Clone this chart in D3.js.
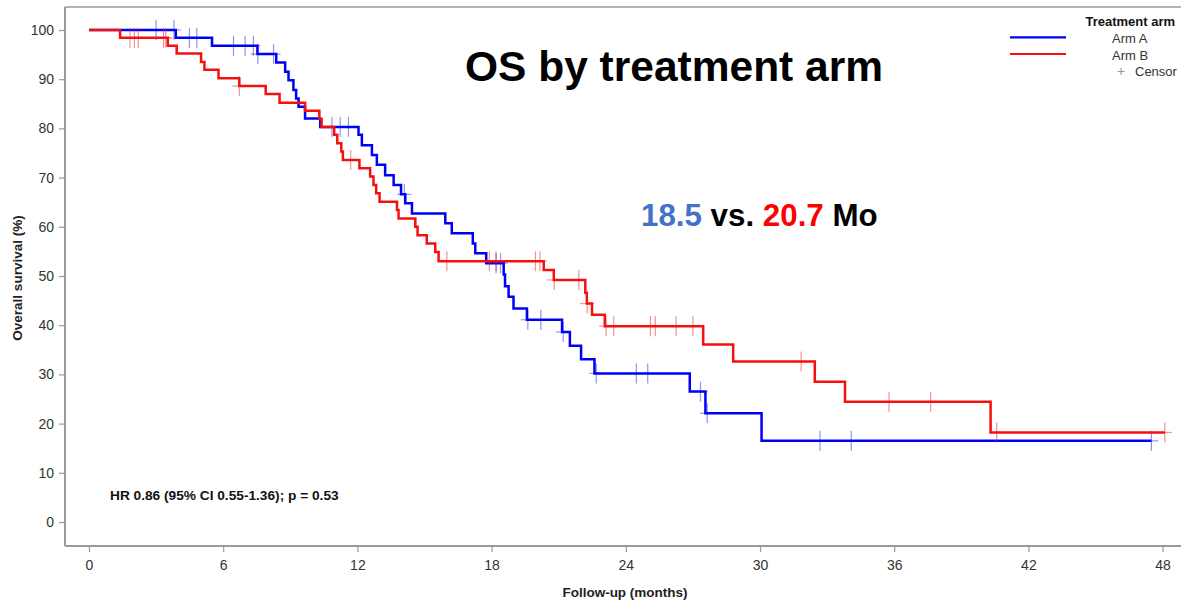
<!DOCTYPE html>
<html>
<head>
<meta charset="utf-8">
<script src="https://cdn.jsdelivr.net/npm/d3@7"></script>
<style>
  html, body { margin: 0; padding: 0; background: #fff; }
  svg text { font-family: "Liberation Sans", Arial, Helvetica, sans-serif; }
</style>
</head>
<body>
<svg id="chart" width="1181" height="601"></svg>
<script>
// Kaplan-Meier step points: event time (months) and survival (%) after the drop
const armATimes = [0, 3.88, 5.5, 7.53, 8.37, 8.77, 8.92, 9.14, 9.26, 9.37, 9.66, 10.34,
  12.05, 12.2, 12.65, 12.87, 13.24, 13.62, 13.95, 14.14, 14.44, 15.93, 16.22, 17.16,
  17.27, 17.76, 18.54, 18.6, 18.76, 18.98, 19.58, 21.15, 21.5, 22.0, 22.6, 26.86, 27.56, 30.07];
const armASurv = [100, 98.4, 96.8, 95.1, 93.4, 91.5, 89.8, 87.8, 86.1, 84.4, 82.0, 80.3,
  78.7, 76.6, 74.6, 72.6, 70.5, 68.5, 66.6, 64.8, 62.7, 60.7, 58.7, 56.6,
  54.6, 52.6, 50.3, 47.9, 45.8, 43.4, 41.1, 38.6, 35.8, 33.1, 30.2, 26.5, 22.1, 16.5];
const armAEnd = 47.5;
const armACensor = [3.0, 3.8, 4.49, 4.82, 6.46, 6.98, 7.35, 7.55, 8.25, 10.86, 11.23, 11.6,
  14.1, 18.2, 18.4, 19.62, 20.2, 21.2, 22.68, 24.47, 24.98, 27.34, 27.64, 32.68, 34.08, 47.5];

const armBTimes = [0, 1.39, 3.52, 3.92, 5.01, 5.16, 5.79, 6.72, 7.9, 8.52, 9.66, 10.3, 10.4,
  10.96, 11.1, 11.28, 11.35, 12.09, 12.57, 12.72, 12.84, 12.99, 13.77, 13.84, 14.59, 14.69,
  15.1, 15.48, 15.63, 20.33, 20.78, 22.19, 22.26, 22.49, 23.06, 27.46, 28.8, 32.45, 33.8, 40.31];
const armBSurv = [100, 98.4, 96.8, 95.2, 93.5, 91.9, 90.2, 88.6, 87.0, 85.2, 83.6, 81.9, 80.3,
  78.7, 77.0, 75.3, 73.6, 71.9, 70.2, 68.5, 66.8, 65.1, 63.4, 61.7, 60.0, 58.3,
  56.6, 54.9, 53.0, 51.2, 49.2, 46.6, 44.4, 42.1, 39.8, 36.1, 32.6, 28.5, 24.45, 18.2];
const armBEnd = 48.1;
const armBCensor = [1.83, 2.03, 2.2, 3.33, 3.43, 6.72, 11.7, 16.0, 17.9, 18.2, 19.96, 20.16,
  20.8, 21.9, 22.27, 23.12, 23.46, 25.1, 25.32, 26.25, 27.0, 31.84, 35.77, 37.63, 40.58, 48.1];

const xTicks = [0, 6, 12, 18, 24, 30, 36, 42, 48];
const yTicks = [0, 10, 20, 30, 40, 50, 60, 70, 80, 90, 100];

const arms = [
  { name: "Arm A", color: "#0000f5", censorColor: "rgba(40,40,230,0.5)",
    times: armATimes, surv: armASurv, end: armAEnd, censor: armACensor },
  { name: "Arm B", color: "#f51010", censorColor: "rgba(235,40,40,0.5)",
    times: armBTimes, surv: armBSurv, end: armBEnd, censor: armBCensor }
];

const svg = d3.select("#chart");

// plotting frame
const frameL = 65, frameT = 7, frameB = 546, frameR = 1181;
const x = d3.scaleLinear().domain([0, 48]).range([89, 1162.6]);
const y = d3.scaleLinear().domain([0, 100]).range([522, 30]);

const axisColor = "#9a9a9a";
const labelColor = "#333";

// top frame line
svg.append("line").attr("x1", frameL).attr("x2", frameR).attr("y1", frameT).attr("y2", frameT)
  .attr("stroke", axisColor).attr("stroke-width", 1.5);

// y axis
const yAxis = svg.append("g").attr("transform", `translate(${frameL},0)`)
  .call(d3.axisLeft(y).tickValues(yTicks).tickSize(6).tickSizeOuter(0).tickPadding(5));
yAxis.select(".domain").remove();
yAxis.append("line").attr("x1", 0).attr("x2", 0).attr("y1", frameT).attr("y2", frameB)
  .attr("stroke", axisColor).attr("stroke-width", 2);
yAxis.selectAll(".tick line").attr("stroke", axisColor).attr("stroke-width", 1.2);
yAxis.selectAll(".tick text").attr("fill", labelColor).attr("font-size", 14)
  .attr("font-family", "'Liberation Sans', Arial, sans-serif");

// x axis
const xAxis = svg.append("g").attr("transform", `translate(0,${frameB})`)
  .call(d3.axisBottom(x).tickValues(xTicks).tickSize(6).tickSizeOuter(0).tickPadding(8));
xAxis.select(".domain").remove();
xAxis.append("line").attr("x1", frameL).attr("x2", frameR).attr("y1", 0).attr("y2", 0)
  .attr("stroke", axisColor).attr("stroke-width", 2);
xAxis.selectAll(".tick line").attr("stroke", axisColor).attr("stroke-width", 1.2);
xAxis.selectAll(".tick text").attr("fill", labelColor).attr("font-size", 14)
  .attr("font-family", "'Liberation Sans', Arial, sans-serif");

// axis titles
svg.append("text")
  .attr("transform", `translate(22,278) rotate(-90)`)
  .attr("text-anchor", "middle").attr("font-weight", "bold").attr("font-size", 13.5)
  .attr("fill", "#222").text("Overall survival (%)");
svg.append("text")
  .attr("x", 625).attr("y", 597).attr("text-anchor", "middle")
  .attr("font-weight", "bold").attr("font-size", 13.5).attr("fill", "#222")
  .text("Follow-up (months)");

// survival at time t (step function, right-continuous)
function survAt(arm, t) {
  let s = arm.surv[0];
  for (let i = 0; i < arm.times.length; i++) if (arm.times[i] <= t) s = arm.surv[i];
  return s;
}

const stepLine = d3.line().x(d => x(d[0])).y(d => y(d[1])).curve(d3.curveStepAfter);

arms.forEach(arm => {
  const pts = arm.times.map((t, i) => [t, arm.surv[i]]);
  pts.push([arm.end, arm.surv[arm.surv.length - 1]]);

  // censor marks
  const g = svg.append("g");
  arm.censor.forEach(t => {
    const cx = x(t), cy = y(survAt(arm, t));
    g.append("line").attr("x1", cx).attr("x2", cx).attr("y1", cy - 10).attr("y2", cy + 10)
      .attr("stroke", arm.censorColor).attr("stroke-width", 1.2);
    g.append("line").attr("x1", cx - 7).attr("x2", cx + 7).attr("y1", cy).attr("y2", cy)
      .attr("stroke", arm.censorColor).attr("stroke-width", 1.2);
  });

  svg.append("path").datum(pts).attr("d", stepLine)
    .attr("fill", "none").attr("stroke", arm.color).attr("stroke-width", 2.5);
});

// title and medians
svg.append("text").attr("x", 674).attr("y", 81).attr("text-anchor", "middle")
  .attr("font-weight", "bold").attr("font-size", 42.5).attr("fill", "#000")
  .text("OS by treatment arm");

const med = svg.append("text").attr("x", 641).attr("y", 226)
  .attr("font-weight", "bold").attr("font-size", 31.3);
med.append("tspan").attr("fill", "#4472c4").text("18.5");
med.append("tspan").attr("fill", "#000").text(" vs. ");
med.append("tspan").attr("fill", "#ff0000").text("20.7");
med.append("tspan").attr("fill", "#000").text(" Mo");

svg.append("text").attr("x", 110).attr("y", 500)
  .attr("font-weight", "bold").attr("font-size", 13.7).attr("fill", "#111")
  .text("HR 0.86 (95% CI 0.55-1.36); p = 0.53");

// legend
const lg = svg.append("g");
lg.append("text").attr("x", 1175).attr("y", 26).attr("text-anchor", "end")
  .attr("font-weight", "bold").attr("font-size", 13).attr("fill", "#111").text("Treatment arm");
arms.forEach((arm, i) => {
  const ly = 37.3 + i * 16.7;
  lg.append("line").attr("x1", 1010).attr("x2", 1066).attr("y1", ly).attr("y2", ly)
    .attr("stroke", arm.color).attr("stroke-width", 2.2);
  lg.append("text").attr("x", 1112).attr("y", ly + 5.5).attr("font-size", 13)
    .attr("fill", labelColor).text(arm.name);
});
lg.append("text").attr("x", 1117).attr("y", 76).attr("font-size", 14)
  .attr("fill", "#999").text("+");
lg.append("text").attr("x", 1135).attr("y", 76).attr("font-size", 13)
  .attr("fill", labelColor).text("Censor");
</script>
</body>
</html>
